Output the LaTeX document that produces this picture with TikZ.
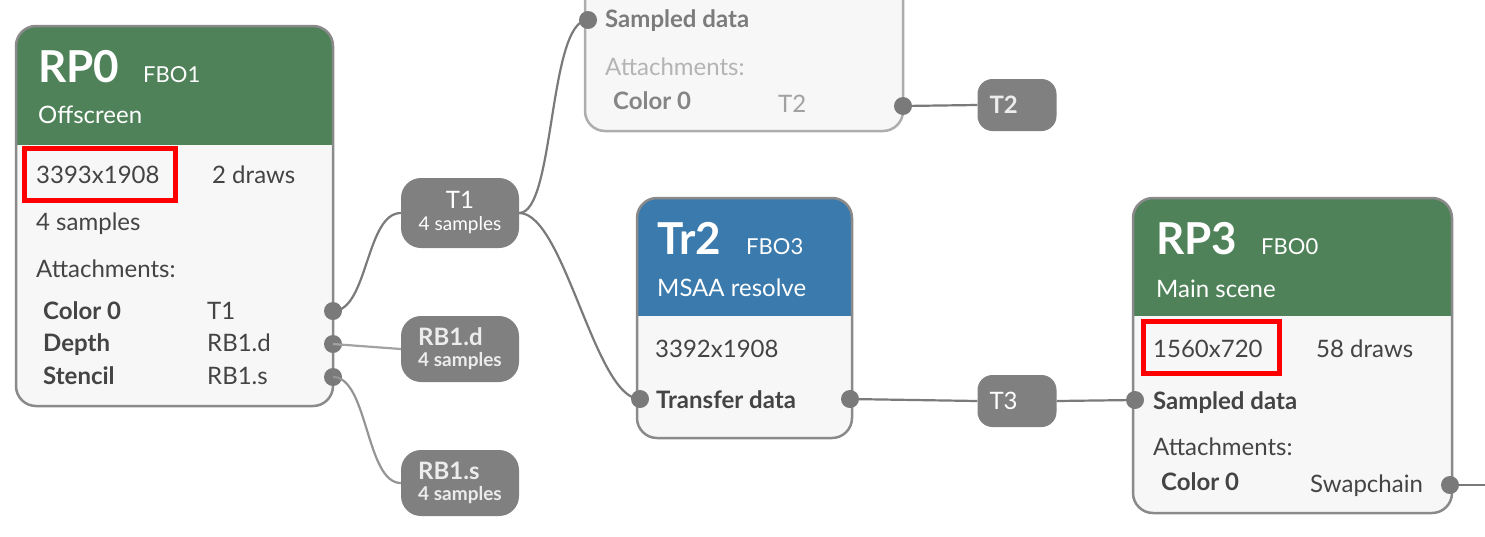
\documentclass[tikz,border=0pt]{standalone}
\usepackage{fontspec}
\setmainfont{Lato}
\usetikzlibrary{positioning}
\definecolor{hdrgreen}{RGB}{79,130,89}
\definecolor{hdrblue}{RGB}{58,122,172}
\definecolor{bodygray}{RGB}{247,247,247}
\definecolor{edgegray}{RGB}{138,138,138}
\definecolor{txtgray}{RGB}{68,68,68}
\definecolor{portgray}{RGB}{122,122,122}
\definecolor{pillgray}{RGB}{128,128,128}
\def\titlefont{\fontsize{44}{50}\selectfont\bfseries}
\def\fbofont{\fontsize{22}{26}\selectfont}
\def\bodyfont{\fontsize{24}{28}\selectfont}
\def\smallfont{\fontsize{19}{21}\selectfont}

\begin{document}
\begin{tikzpicture}[x=1pt, y=-1pt,
	txt/.style={anchor=base west, inner sep=0pt, text=txtgray, font=\bodyfont},
	bold/.style={txt, font=\bodyfont\bfseries},
	title/.style={txt, text=white, font=\titlefont},
	fbo/.style={txt, text=white, font=\fbofont},
	port/.style={circle, fill=portgray, inner sep=0pt, minimum size=18pt},
	pill/.style={rounded corners=20pt, fill=pillgray, text=white, inner sep=0pt, minimum width=118pt, minimum height=66pt, font=\bodyfont},
	tag/.style={rounded corners=15pt, fill=pillgray, text=white, inner sep=0pt, minimum width=79pt, minimum height=52pt, text width=55pt, align=left, font=\bodyfont},
	wire/.style={draw=portgray, line width=2.2pt},
	frame/.style={draw=edgegray, line width=2.5pt, rounded corners=20pt},
	redmark/.style={draw=red, line width=5pt}]
		%%%%% START %%%%%
		\useasboundingbox (0,0) rectangle (1485,536);
		
		% faded pass at the top
		\begin{scope}
			\clip (0,0) rectangle (1485,536);
			\fill[bodygray, rounded corners=20pt] (585,-40) rectangle (903,131);
			\draw[frame, draw=edgegray!70] (585,-40) rectangle (903,131);
		\end{scope}
		\node[port] (tops) at (588,20) {};
		\node[port] (topc) at (903,106) {};
		\node[bold, text=txtgray!70] (topsd) at (605,27) {Sampled data};
		\node[txt, text=txtgray!40] (topatt) at (605,75) {Attachments:};
		\node[bold, text=txtgray!65] (topcol) at (613,109) {Color 0};
		\node[txt, text=txtgray!50] (topt2) at (778,112) {T2};
		
		% RP0
		\fill[bodygray, rounded corners=20pt] (16,26) rectangle (333,406);
		\begin{scope}
			\clip[rounded corners=20pt] (16,26) rectangle (333,406);
			\fill[hdrgreen] (16,26) rectangle (333,145);
		\end{scope}
		\draw[frame] (16,26) rectangle (333,406);
		\node[title] (rp0) at (38,82) {RP0};
		\node[fbo] (rp0fbo) at (143,82) {FBO1};
		\node[txt, text=white] (rp0name) at (38,123) {Offscreen};
		\node[txt] (rp0size) at (36,183) {3393x1908};
		\node[txt] (rp0draws) at (212,183) {2 draws};
		\node[txt] (rp0smp) at (36,230) {4 samples};
		\node[txt] (rp0att) at (36,277) {Attachments:};
		\node[bold] (rp0col) at (43,319) {Color 0};
		\node[txt] (rp0colv) at (207,319) {T1};
		\node[bold] (rp0dep) at (43,351) {Depth};
		\node[txt] (rp0depv) at (207,351) {RB1.d};
		\node[bold] (rp0sten) at (43,384) {Stencil};
		\node[txt] (rp0stenv) at (207,384) {RB1.s};
		\draw[redmark] (24.5,148.5) rectangle (175,200);
		\node[port] (rp0c) at (333,311) {};
		\node[port] (rp0d) at (333,344) {};
		\node[port] (rp0s) at (333,377) {};
		
		% Tr2
		\fill[bodygray, rounded corners=20pt] (637,198) rectangle (852,438);
		\begin{scope}
			\clip[rounded corners=20pt] (637,198) rectangle (852,438);
			\fill[hdrblue] (637,198) rectangle (852,316);
		\end{scope}
		\draw[frame] (637,198) rectangle (852,438);
		\node[title] (tr2) at (657,254) {Tr2};
		\node[fbo] (tr2fbo) at (746,254) {FBO3};
		\node[txt, text=white] (tr2name) at (657,296) {MSAA resolve};
		\node[txt] (tr2size) at (655,357) {3392x1908};
		\node[bold] (tr2td) at (656,408) {Transfer data};
		\node[port] (tr2in) at (640,399) {};
		\node[port] (tr2out) at (850,399) {};
		
		% RP3
		\fill[bodygray, rounded corners=20pt] (1133,198) rectangle (1452,513);
		\begin{scope}
			\clip[rounded corners=20pt] (1133,198) rectangle (1452,513);
			\fill[hdrgreen] (1133,198) rectangle (1452,316);
		\end{scope}
		\draw[frame] (1133,198) rectangle (1452,513);
		\node[title] (rp3) at (1156,254) {RP3};
		\node[fbo] (rp3fbo) at (1261,254) {FBO0};
		\node[txt, text=white] (rp3name) at (1156,297) {Main scene};
		\node[txt] (rp3size) at (1153,357) {1560x720};
		\node[txt] (rp3draws) at (1316,357) {58 draws};
		\node[bold] (rp3sd) at (1153,409) {Sampled data};
		\node[txt] (rp3att) at (1153,455) {Attachments:};
		\node[bold] (rp3col) at (1161,490) {Color 0};
		\node[txt] (rp3colv) at (1310,492) {Swapchain};
		\draw[redmark] (1143.5,321.5) rectangle (1279.5,373.5);
		\node[port] (rp3in) at (1135,400) {};
		\node[port] (rp3out) at (1450,485) {};
		\coordinate (edge) at (1485,485);
		
		% textures and buffers
		\node[pill, minimum height=70pt, align=center] (t1) at (460,213) {T1\\[-6pt]{\smallfont 4 samples}};
		\node[pill, align=left, text=white!85!gray] (rb1d) at (460,349) {\textbf{RB1.d}\\[-7pt]{\smallfont\bfseries 4 samples}};
		\node[pill, align=left, text=white!85!gray] (rb1s) at (460,483) {\textbf{RB1.s}\\[-7pt]{\smallfont\bfseries 4 samples}};
		\node[tag, font=\bodyfont\bfseries, text=white!85!gray] (t2) at (1017,105) {T2};
		\node[tag] (t3) at (1017,401) {T3};
		
		\draw[wire] (rp0c.center) .. controls +(35,0) and +(-35,0) .. (t1.west);
		\draw[wire, draw=portgray!70] (rp0d.center) -- (rb1d.west);
		\draw[wire, draw=portgray!80] (rp0s.center) .. controls +(35,0) and +(-35,0) .. (rb1s.west);
		\draw[wire] (t1.east) .. controls +(36,0) and +(-40,0) .. (tops.center);
		\draw[wire] (t1.east) .. controls +(45,0) and +(-45,0) .. (tr2in.center);
		\draw[wire] (topc.center) -- (t2.west);
		\draw[wire] (tr2out.center) -- (t3.west);
		\draw[wire] (t3.east) -- (rp3in.center);
		\draw[wire] (rp3out.center) -- (edge);
		
		%%%%% END %%%%%
\end{tikzpicture}
\end{document}
